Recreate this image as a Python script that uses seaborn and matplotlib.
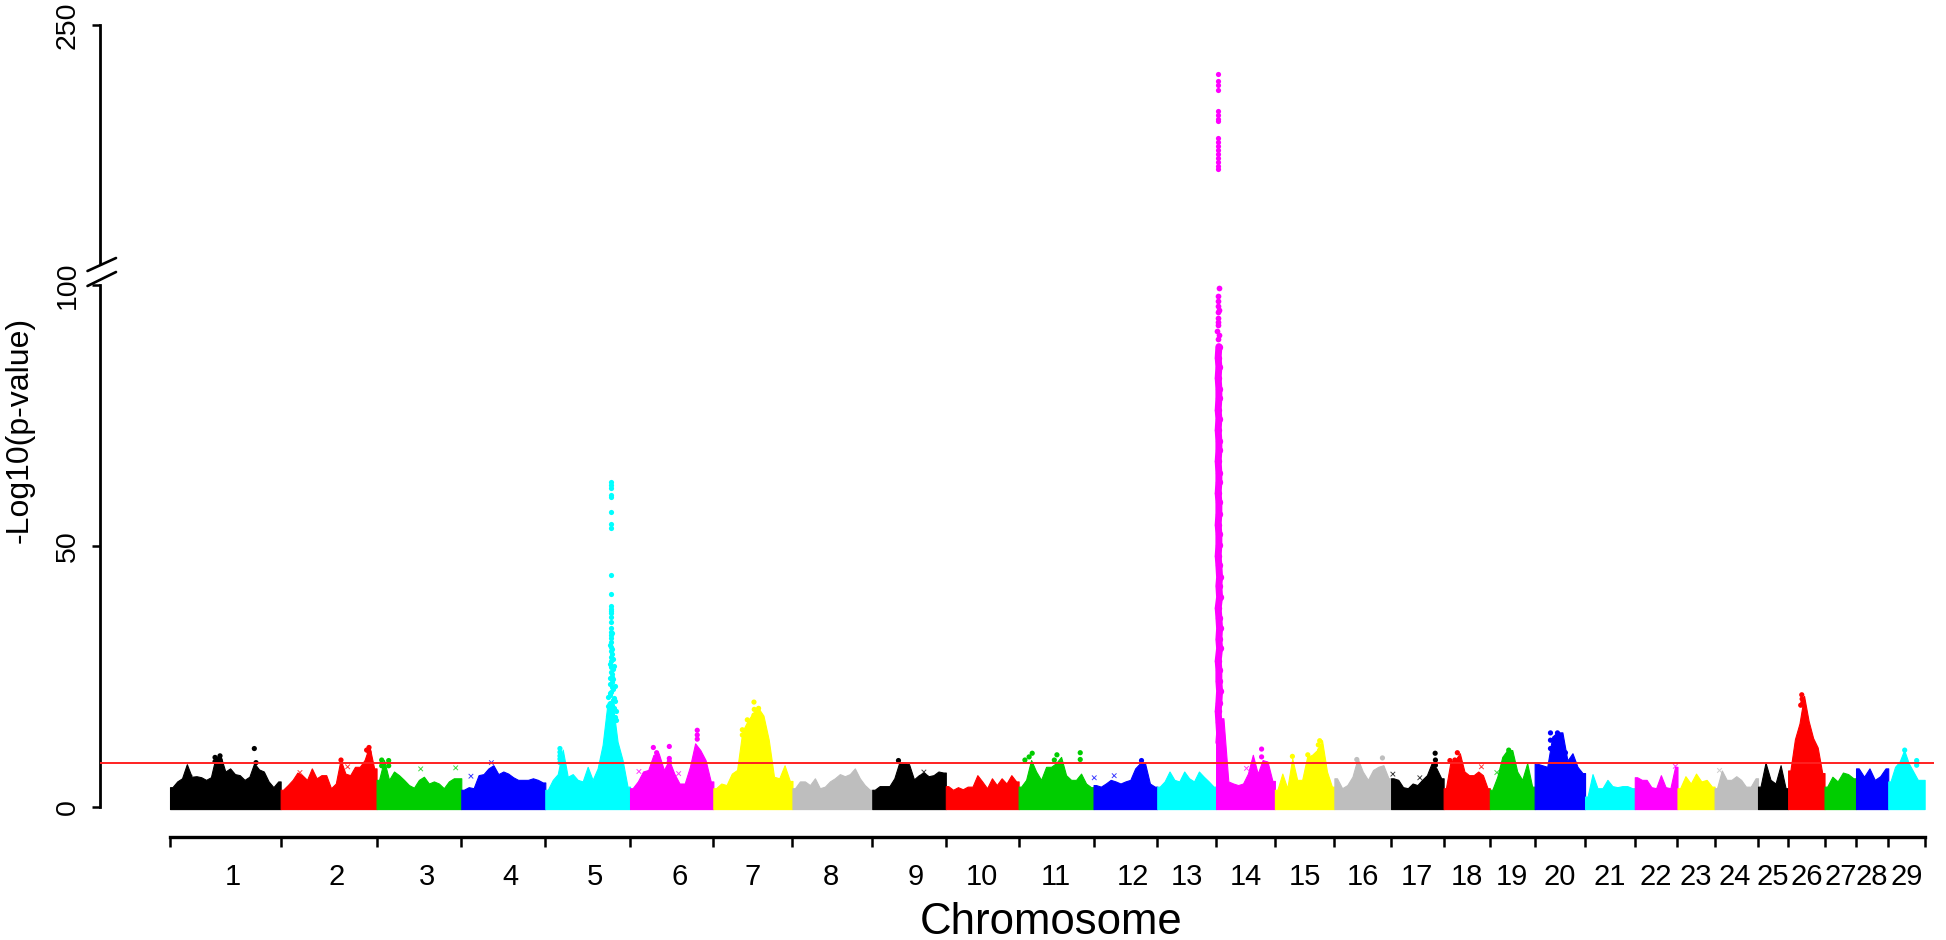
import numpy as np
import pandas as pd
import matplotlib.pyplot as plt
from matplotlib.lines import Line2D
import seaborn as sns

# chromosome lengths in Mb
chrom_len = [158, 137, 121, 120, 121, 119, 113, 114, 105, 104, 107, 91, 84, 84, 85,
             81, 75, 66, 64, 72, 71, 61, 53, 62, 43, 52, 45, 46, 52]
label_shift = [10, 11, 11, 10, 11, 11, 0, -2, 10, 0, 0, 11, 0, 0, 0,
               0, 0, 0, 0, 0, 0, 0, 0, -2, 0, 0, 0, 0, 0]

# top of the point cloud along each chromosome, equal steps, -log10(p)
top = {
    1: [3.8, 4.9, 5.5, 8.2, 5.8, 5.9, 5.7, 5.2, 5.7, 9.6, 9.8, 6.8, 7.4, 6.3, 6.1, 5.2, 5.8, 8.4, 7.2, 6.8, 4.9, 3.8, 4.9],
    2: [3.3, 4.2, 5.2, 6.6, 6.1, 5.2, 7.4, 5.5, 6.1, 6.1, 3.6, 4.5, 9.1, 6.4, 6.1, 7.7, 7.7, 9.0, 11.7, 7.4],
    3: [5.2, 9.0, 5.2, 6.8, 6.1, 5.2, 4.2, 3.7, 5.2, 5.8, 4.5, 4.9, 4.5, 3.6, 4.9, 5.5, 5.5],
    4: [3.3, 3.8, 3.6, 6.1, 6.3, 7.4, 8.0, 6.3, 6.8, 6.4, 5.7, 5.2, 5.2, 5.2, 5.5, 5.2, 4.7],
    5: [3.3, 5.2, 6.3, 11.0, 5.8, 6.3, 5.2, 4.9, 7.7, 5.2, 7.4, 11.9, 20.0, 20.0, 12.5, 9.0, 3.9],
    6: [3.6, 4.9, 6.8, 7.1, 10.0, 10.3, 7.1, 9.0, 6.4, 4.5, 4.5, 7.7, 12.2, 10.9, 9.0, 4.9],
    7: [3.6, 4.5, 4.2, 6.4, 7.1, 14.5, 16.5, 18.0, 19.0, 17.5, 12.9, 5.8, 5.5, 8.0, 5.0],
    8: [3.6, 4.9, 4.9, 4.2, 5.5, 3.6, 3.9, 4.9, 5.5, 6.3, 5.9, 6.3, 7.4, 5.5, 4.2, 3.3],
    9: [3.3, 4.0, 4.0, 4.0, 5.5, 8.5, 8.5, 8.2, 5.3, 6.1, 6.6, 5.9, 6.1, 6.8, 6.6],
    10: [4.0, 3.3, 3.8, 3.4, 3.9, 3.9, 6.1, 4.9, 3.6, 5.5, 4.2, 5.5, 4.5, 6.1, 4.9],
    11: [3.9, 5.2, 9.0, 6.8, 5.2, 7.7, 7.7, 8.4, 9.6, 6.1, 5.2, 5.2, 6.4, 4.5, 3.8],
    12: [4.2, 3.9, 4.5, 5.2, 4.9, 4.5, 4.9, 5.2, 7.4, 8.4, 8.4, 4.5, 3.9],
    13: [3.9, 4.9, 6.8, 5.2, 4.9, 6.8, 5.5, 4.9, 6.8, 5.8, 4.9, 3.9],
    14: [17.0, 17.0, 4.9, 4.5, 4.2, 4.5, 6.4, 10.0, 6.4, 9.0, 8.7, 5.0],
    15: [3.3, 6.4, 3.6, 9.3, 5.2, 5.2, 9.6, 10.0, 10.9, 12.8, 6.8, 3.9],
    16: [5.5, 3.6, 4.2, 5.8, 9.3, 6.8, 5.2, 7.1, 7.7, 8.0, 5.5],
    17: [5.5, 5.2, 3.8, 3.6, 4.5, 4.2, 5.2, 6.1, 8.4, 7.4, 5.5],
    18: [3.6, 8.7, 9.0, 10.3, 6.8, 6.1, 6.1, 6.8, 6.1, 3.6],
    19: [3.3, 5.8, 9.6, 10.9, 10.9, 6.8, 5.2, 8.4, 3.9],
    20: [8.3, 8.0, 7.7, 13.5, 14.3, 14.3, 8.9, 10.3, 7.7, 6.5],
    21: [2.0, 6.3, 3.6, 3.6, 5.2, 4.0, 3.8, 4.0, 4.0, 3.6],
    22: [5.7, 5.2, 5.2, 3.8, 3.6, 6.1, 3.8, 3.6, 7.7],
    23: [3.6, 5.9, 4.5, 6.4, 4.9, 5.2, 3.9],
    24: [3.6, 7.0, 5.2, 5.2, 5.9, 5.2, 3.9, 3.9, 5.5],
    25: [3.9, 8.5, 5.2, 4.5, 8.0, 3.6],
    26: [7.0, 13.0, 16.0, 21.3, 16.5, 13.2, 11.4, 6.5],
    27: [3.9, 5.8, 4.9, 6.6, 6.3, 5.5],
    28: [7.4, 5.8, 7.4, 5.2, 5.9, 7.4],
    29: [4.9, 7.7, 8.7, 10.9, 8.4, 6.8, 5.2, 5.2],
}

# single SNPs standing out of the cloud: chromosome, genome position (Mb), -log10(p)
hit_chrom = [1, 1, 1, 1, 1, 1, 2, 2, 2, 2, 2, 3, 3, 3, 3, 5, 5, 5, 5, 5,
             6, 6, 6, 6, 6, 6, 6, 6, 7, 7, 7, 7, 7, 7, 7, 7, 7, 9, 11, 11, 11, 11, 11, 11, 11,
             12, 14, 14, 15, 15, 15, 15, 15, 16, 16, 17, 17, 17, 18, 18, 18, 19,
             20, 20, 20, 20, 20, 20, 20, 26, 26, 26, 26, 29, 29, 29]
hit_x = [120.4, 122.8, 64.3, 64.3, 71.4, 71.4, 244.2, 284.2, 284.2, 284.2, 280.8, 302.3, 302.3, 312.3, 312.3,
         556.9, 556.9, 556.9, 556.9, 556.9,
         690.3, 695, 713.1, 713.1, 713.1, 753, 753, 753, 834, 834.4, 840.6, 824.5, 817.4, 817.4, 842.5, 843.4, 834,
         1040.4, 1231.4, 1227, 1221, 1266.7, 1263, 1300, 1300,
         1387.5, 1559, 1559, 1603, 1625, 1642, 1640, 1642, 1695, 1731.6, 1806.9, 1807.3, 1807.3,
         1838.6, 1835, 1828, 1912,
         1971.6, 1981.6, 1971.6, 1981.6, 1971.6, 1981.6, 1993, 2330.5, 2331, 2332, 2329, 2477.5, 2494.6, 2494.6]
hit_y = [11.2, 8.5, 9.5, 8.7, 9.8, 9.0, 9.0, 11.4, 10.5, 9.6, 10.9, 9.0, 7.9, 8.9, 7.9,
         11.2, 10.5, 9.8, 9.2, 8.5,
         11.4, 10.4, 11.6, 9.3, 8.7, 14.7, 13.8, 13.0, 20.1, 18.7, 18.9, 16.7, 14.8, 13.8, 17.6, 15.7, 17.6,
         8.9, 10.3, 9.6, 9.0, 10.0, 9.0, 10.4, 9.1,
         8.9, 11.1, 9.6, 9.7, 10.0, 12.7, 11.9, 10.9, 9.1, 9.4, 10.3, 9.0, 8.0,
         10.4, 9.0, 8.9, 10.9,
         14.2, 14.2, 12.8, 12.8, 11.2, 11.2, 10.4, 21.5, 20.7, 20.0, 19.5, 10.9, 8.9, 8.0]

# pale crosses just above the cloud
cross_chrom = [1, 2, 2, 3, 3, 4, 4, 6, 6, 6, 9, 12, 12, 14, 17, 17, 18, 19, 22, 24]
cross_x = [28.6, 185.6, 253.7, 358, 408, 429.8, 459, 669.7, 694, 726.4, 1076.7, 1320, 1348.5, 1537.5, 1746.5, 1785,
           1873, 1895, 2150, 2213]
cross_y = [5.7, 6.6, 7.7, 7.3, 7.5, 5.9, 8.5, 6.8, 7.7, 6.4, 6.7, 5.6, 6.0, 7.4, 6.3, 5.6, 7.7, 6.6, 7.8, 7.0]

# chr5 peak, upper column
chr5_y = [62.2, 61.7, 61.2, 59.8, 59.3, 56.6, 54.3, 53.4, 44.4, 40.9, 38.5, 38.0, 37.6, 37.1, 36.4, 35.5, 34.2, 33.6,
          33.0, 32.3, 31.7, 30.7, 29.8, 28.8, 27.9, 26.9, 25.9, 25.0, 24.0, 23.0, 22.1, 21.4, 20.5, 19.5, 18.6,
          33.4, 31.1, 30.2, 29.3, 28.3, 27.4, 26.4, 25.5, 24.5, 23.5, 22.6, 21.8, 20.9, 20.0, 19.0, 18.1, 17.2, 16.4,
          27.0, 24.8, 23.2, 21.1, 20.3, 19.3, 18.4, 17.5, 16.6, 15.8]
chr5_x = [630, 630, 630, 630, 630, 630, 630, 630, 630, 630, 630, 630, 630, 630, 630, 630, 630.5, 630.5,
          630.5, 630, 630, 630, 629.5, 630, 630, 630, 629.5, 631.5, 631, 631, 630.5, 629, 632, 631, 630,
          631, 629, 631, 631, 632, 629, 632, 631, 633, 629, 633, 628, 634, 628, 634, 627, 635, 627,
          634, 628, 636, 626, 636, 626, 637, 626, 637, 625]

# chr14 peak, solid part of the column
column_y = [12.4, 14.1, 16.2, 18.3, 20.0, 22.2, 24.1, 26.3, 28.0, 30.4, 32.1, 34.2, 36.3, 38.1, 40.2, 42.4, 44.0, 46.3,
            48.1, 50.2, 52.3, 54.1, 56.2, 58.4, 60.1, 62.3, 64.0, 66.2, 68.3, 70.1, 72.2, 74.4, 76.0, 78.3, 80.1, 82.2,
            84.3, 86.1, 88.2]
column_x = [1498, 1499, 1498, 1497, 1498, 1499, 1498, 1498, 1497, 1499, 1498, 1499, 1498, 1497, 1499, 1498, 1499, 1498,
            1497, 1498, 1498, 1497, 1498, 1498, 1497, 1498, 1498, 1497, 1498, 1498, 1497, 1498, 1497, 1498, 1498, 1497,
            1498, 1497, 1498]
# chr14 peak, sparse points at the top of the lower panel and in the upper panel
sparse_y = [89.6, 90.4, 91.1, 92.3, 93.0, 93.6, 94.8, 95.3, 95.9, 97.0, 97.8, 99.4]
sparse_x = [1497, 1498, 1496, 1497, 1497, 1497, 1497, 1498, 1497, 1497, 1497, 1498]
high_y = [219, 214.7, 212, 209, 196, 193, 191, 189.5, 178.8, 176.2, 173.7, 171.2, 168.7, 166.2, 163.6, 161.1, 159.2]

threshold = 8.5
tick_250 = [250]
tick_low = [0, 50, 100]

sns.set_style('white', {'axes.edgecolor': 'black', 'text.color': 'black',
                        'xtick.color': 'black', 'ytick.color': 'black', 'axes.labelcolor': 'black'})
plt.rcParams['font.family'] = ['Liberation Sans', 'DejaVu Sans']

# R's default palette, recycled along the chromosomes
r_colors = ['#000000', '#FF0000', '#00CD00', '#0000FF', '#00FFFF', '#FF00FF', '#FFFF00', '#BEBEBE']
pal = {c + 1: r_colors[c % 8] for c in range(29)}

W, H = 1946, 940
fig = plt.figure(figsize=(W / 100, H / 100), dpi=100)
ax = fig.add_axes([100 / W, (H - 837) / H, (W - 100) / W, (837 - 280) / H])
ax_top = fig.add_axes([100 / W, (H - 263) / H, (W - 100) / W, (263 - 25) / H], sharex=ax)

starts = np.concatenate([[0], np.cumsum(chrom_len)])
mids = (starts[:-1] + starts[1:]) / 2 + np.array(label_shift)

# body of each chromosome
for c in range(1, 30):
    h = top[c]
    step = chrom_len[c - 1] / len(h)
    x = starts[c - 1] + step * (np.arange(len(h)) + 0.5)
    x = np.concatenate([[starts[c - 1]], x, [starts[c]]])
    y = np.concatenate([[h[0]], h, [h[-1]]])
    ax.fill_between(x, -0.4, y, color=pal[c], lw=0.8, edgecolor=pal[c], zorder=2)

hits = pd.DataFrame({'chrom': hit_chrom, 'x': hit_x, 'y': hit_y})
sns.scatterplot(data=hits, x='x', y='y', hue='chrom', palette=pal, s=14, linewidth=0, legend=False, ax=ax, zorder=3)

cross = pd.DataFrame({'chrom': cross_chrom, 'x': cross_x, 'y': cross_y})
sns.scatterplot(data=cross, x='x', y='y', hue='chrom', palette=pal, s=11, marker='x', linewidth=0.7, alpha=0.75,
                legend=False, ax=ax, zorder=3)

sns.scatterplot(x=chr5_x, y=chr5_y, color=pal[5], s=14, linewidth=0, ax=ax, zorder=3)
sns.lineplot(x=column_x, y=column_y, color=pal[14], lw=5.0, sort=False, estimator=None, ax=ax, zorder=3)
sns.scatterplot(x=column_x, y=column_y, color=pal[14], s=28, linewidth=0, ax=ax, zorder=3)
sns.scatterplot(x=sparse_x, y=sparse_y, color=pal[14], s=17, linewidth=0, ax=ax, zorder=3)
sns.scatterplot(x=[1497] * len(high_y), y=high_y, color=pal[14], s=14, linewidth=0, ax=ax_top, zorder=3)

ax.set_xlim(-100, 2536.5)
ax.set_ylim(-5.747, 100.96)
ax_top.set_ylim(100, 250)

ax.hlines(threshold, -100, 2520, color='#FF2020', lw=1.4, zorder=4)

for a in (ax, ax_top):
    sns.despine(ax=a, top=True, right=True)
    a.spines['left'].set_linewidth(2.0)
    a.patch.set_alpha(0)
    a.set_xlabel('')
    a.set_ylabel('')
ax_top.spines['bottom'].set_visible(False)
ax.spines['left'].set_bounds(0, 100)
ax.spines['bottom'].set_bounds(0, starts[-1])
ax.spines['bottom'].set_linewidth(2.4)

ax.set_yticks(tick_low)
ax_top.set_yticks(tick_250)
for a in (ax, ax_top):
    a.tick_params(axis='y', left=True, length=6, width=1.8, pad=8, labelsize=20.5)
    for t in a.get_yticklabels():
        t.set_rotation(90)
        t.set_va('center')

ax.set_xticks(starts)
ax.set_xticklabels([])
ax.tick_params(axis='x', which='major', bottom=True, length=7.5, width=1.8)
ax.set_xticks(mids, minor=True)
ax.set_xticklabels([str(c) for c in range(1, 30)], minor=True)
ax.tick_params(axis='x', which='minor', bottom=False, length=0, pad=19, labelsize=21)
ax_top.tick_params(axis='x', which='both', bottom=False, labelbottom=False)

# break marks on the y axis
for y0, y1 in [(271, 258), (286, 272)]:
    fig.add_artist(Line2D([87.5 / W, 116 / W], [(H - y0) / H, (H - y1) / H], color='black', lw=1.9))

fig.text(1051 / W, (H - 923) / H, 'Chromosome', fontsize=31.5, ha='center', va='center', color='black')
fig.text(20 / W, (H - 430) / H, '-Log10(p-value)', fontsize=23, rotation=90, ha='center', va='center', color='black')

fig.savefig('out.png', dpi=100, facecolor='white')
